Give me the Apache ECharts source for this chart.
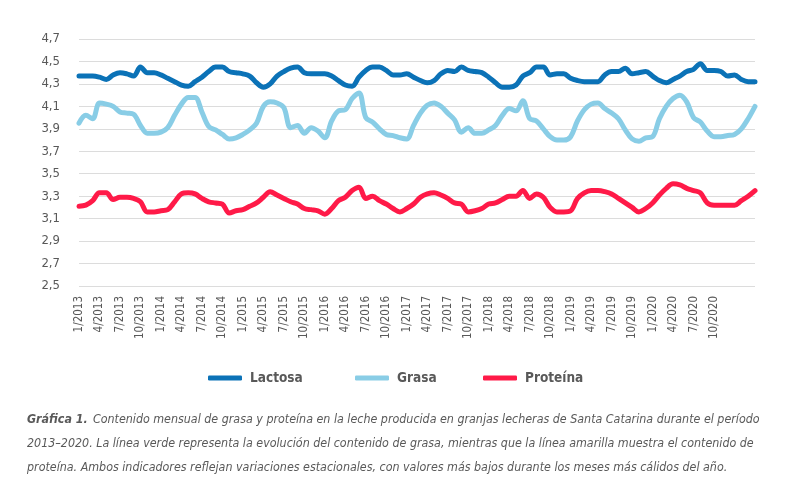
<!doctype html>
<html>
<head>
    <meta charset="utf-8">
    <title>Gráfica 1</title>
    <style type="text/css">
        body, html {
            width: 100%;
            height: 100%;
            margin: 0;
            padding: 0;
            background: #fff;
        }
    </style>
    <script src="https://cdn.jsdelivr.net/npm/echarts@6/dist/echarts.min.js"></script>
</head>
<body>
<div id="container" style="width: 800px; height: 497px"></div>
<script type="text/javascript">
    // meses 1/2013 ... 4/2021 (las etiquetas solo llegan a 10/2020)
    const months = [];
    for (let y = 2013; y <= 2021; y++) {
        for (let m = 1; m <= 12; m++) {
            if (y === 2021 && m > 4) break;
            months.push(m + '/' + y);
        }
    }
    const lastLabel = '10/2020';

    const lactosa = [
        4.37, 4.37, 4.37, 4.36, 4.34, 4.38, 4.40, 4.39, 4.37, 4.45,
        4.40, 4.40, 4.38, 4.35, 4.32, 4.29, 4.28, 4.32, 4.36, 4.41,
        4.45, 4.45, 4.41, 4.40, 4.39, 4.37, 4.31, 4.27, 4.30, 4.37,
        4.41, 4.44, 4.45, 4.40, 4.39, 4.39, 4.39, 4.37, 4.33, 4.29,
        4.28, 4.36, 4.42, 4.45, 4.45, 4.42, 4.38, 4.38, 4.39, 4.36,
        4.33, 4.31, 4.33, 4.39, 4.42, 4.41, 4.45, 4.42, 4.41, 4.40,
        4.36, 4.31, 4.27, 4.27, 4.29, 4.37, 4.40, 4.45, 4.45, 4.38,
        4.39, 4.39, 4.35, 4.33, 4.32, 4.32, 4.32, 4.38, 4.41, 4.41,
        4.44, 4.39, 4.40, 4.41, 4.37, 4.33, 4.31, 4.34, 4.37, 4.41,
        4.43, 4.48, 4.42, 4.42, 4.41, 4.37, 4.38, 4.34, 4.32, 4.32
    ];
    const grasa = [
        3.95, 4.02, 3.99, 4.13, 4.12, 4.10, 4.05, 4.04, 4.03, 3.93,
        3.86, 3.86, 3.87, 3.91, 4.02, 4.12, 4.18, 4.18, 4.05, 3.92,
        3.89, 3.85, 3.81, 3.82, 3.85, 3.89, 3.95, 4.10, 4.14, 4.13,
        4.09, 3.91, 3.93, 3.86, 3.91, 3.88, 3.82, 3.97, 4.06, 4.07,
        4.17, 4.22, 4.00, 3.96, 3.90, 3.85, 3.84, 3.82, 3.81, 3.93,
        4.04, 4.11, 4.13, 4.10, 4.04, 3.98, 3.87, 3.91, 3.86, 3.86,
        3.89, 3.93, 4.02, 4.08, 4.06, 4.15, 3.99, 3.97, 3.90, 3.83,
        3.80, 3.80, 3.83, 3.97, 4.07, 4.12, 4.13, 4.08, 4.04, 3.99,
        3.89, 3.81, 3.79, 3.82, 3.83, 3.99, 4.10, 4.17, 4.20, 4.14,
        4.00, 3.96, 3.88, 3.83, 3.83, 3.84, 3.85, 3.90, 3.99, 4.10
    ];
    const proteina = [
        3.21, 3.22, 3.26, 3.33, 3.33, 3.27, 3.29, 3.29, 3.28, 3.25,
        3.16, 3.16, 3.17, 3.18, 3.25, 3.32, 3.33, 3.32, 3.28, 3.25,
        3.24, 3.23, 3.15, 3.17, 3.18, 3.21, 3.24, 3.29, 3.34, 3.31,
        3.28, 3.25, 3.23, 3.19, 3.18, 3.17, 3.14, 3.19, 3.26, 3.29,
        3.35, 3.38, 3.28, 3.30, 3.26, 3.23, 3.19, 3.16, 3.19, 3.23,
        3.29, 3.32, 3.33, 3.31, 3.28, 3.24, 3.23, 3.16, 3.17, 3.19,
        3.23, 3.24, 3.27, 3.30, 3.30, 3.35, 3.28, 3.32, 3.29, 3.20,
        3.16, 3.16, 3.17, 3.28, 3.33, 3.35, 3.35, 3.34, 3.32, 3.28,
        3.24, 3.20, 3.16, 3.19, 3.24, 3.31, 3.37, 3.41, 3.40, 3.37,
        3.35, 3.33, 3.24, 3.22, 3.22, 3.22, 3.22, 3.26, 3.30, 3.35
    ];

    const seriesNames = ['Lactosa', 'Grasa', 'Proteína'];
    const colors = ['#0b72b7', '#89cde6', '#ff1a48'];
    const legendLeft = [203, 350, 478];

    const captionLead = 'Gráfica 1.';
    const caption = [
        'Contenido mensual de grasa y proteína en la leche producida en granjas lecheras de Santa Catarina durante el período',
        '2013–2020. La línea verde representa la evolución del contenido de grasa, mientras que la línea amarilla muestra el contenido de',
        'proteína. Ambos indicadores reflejan variaciones estacionales, con valores más bajos durante los meses más cálidos del año.'
    ];

    const font = '"DejaVu Sans Condensed", "Liberation Sans Narrow", sans-serif';
    const grey = '#595959';

    // ajusta el tamaño del pie para que la línea más larga ocupe el ancho del original
    const captionLeft = 27;
    const captionWidth = 732;
    const ctx = document.createElement('canvas').getContext('2d');
    ctx.font = 'italic bold 20px ' + font;
    const leadW = ctx.measureText(captionLead + ' ').width;
    ctx.font = 'italic normal 20px ' + font;
    const widest = Math.max(
        leadW + ctx.measureText(caption[0]).width,
        ctx.measureText(caption[1]).width,
        ctx.measureText(caption[2]).width
    );
    const capSize = Math.min(15, 20 * captionWidth / widest);

    const dom = document.getElementById('container');
    const myChart = echarts.init(dom, null, {renderer: 'canvas'});

    const option = {
        animation: false,
        color: colors,
        textStyle: {fontFamily: font},
        title: {
            left: captionLeft - 5,
            top: 403,
            text: '{b|' + captionLead + '} {n|' + caption[0] + '}\n{n|' + caption[1] + '}\n{n|' + caption[2] + '}',
            textStyle: {
                fontWeight: 'normal',
                rich: {
                    b: {fontFamily: font, fontSize: capSize, fontStyle: 'italic', fontWeight: 'bold', color: grey, lineHeight: 24},
                    n: {fontFamily: font, fontSize: capSize, fontStyle: 'italic', fontWeight: 'normal', color: grey, lineHeight: 24}
                }
            }
        },
        legend: seriesNames.map(function (name, k) {
            return {
                left: legendLeft[k],
                top: 366,
                icon: 'roundRect',
                itemWidth: 34,
                itemHeight: 5,
                data: [name],
                textStyle: {fontFamily: font, fontSize: 13.5, fontWeight: 'bold', color: grey, padding: [0, 0, 0, 3]}
            };
        }),
        grid: {
            left: 79,
            right: 45,
            top: 39,
            bottom: 211
        },
        xAxis: {
            type: 'category',
            boundaryGap: false,
            data: months,
            axisLine: {show: false},
            axisTick: {show: false},
            axisLabel: {
                rotate: 90,
                margin: 10,
                fontSize: 11.5,
                color: grey,
                interval: function (i) {
                    return i % 3 === 0 && i <= months.indexOf(lastLabel);
                }
            }
        },
        yAxis: {
            type: 'value',
            min: 2.5,
            max: 4.7,
            interval: 0.2,
            axisLine: {show: false},
            axisTick: {show: false},
            splitLine: {lineStyle: {color: '#dcdcdc', width: 1}},
            axisLabel: {
                margin: 19,
                fontSize: 13,
                color: grey,
                formatter: function (v) {
                    return v.toFixed(1).replace('.', ',');
                }
            }
        },
        series: [
            {name: seriesNames[0], type: 'line', data: lactosa},
            {name: seriesNames[1], type: 'line', data: grasa},
            {name: seriesNames[2], type: 'line', data: proteina}
        ].map(function (s, k) {
            s.smooth = 0.35;
            s.showSymbol = false;
            s.symbol = 'none';
            s.lineStyle = {width: 5, color: colors[k], cap: 'round', join: 'round'};
            return s;
        })
    };

    myChart.setOption(option);
    window.addEventListener('resize', myChart.resize);
</script>
</body>
</html>
